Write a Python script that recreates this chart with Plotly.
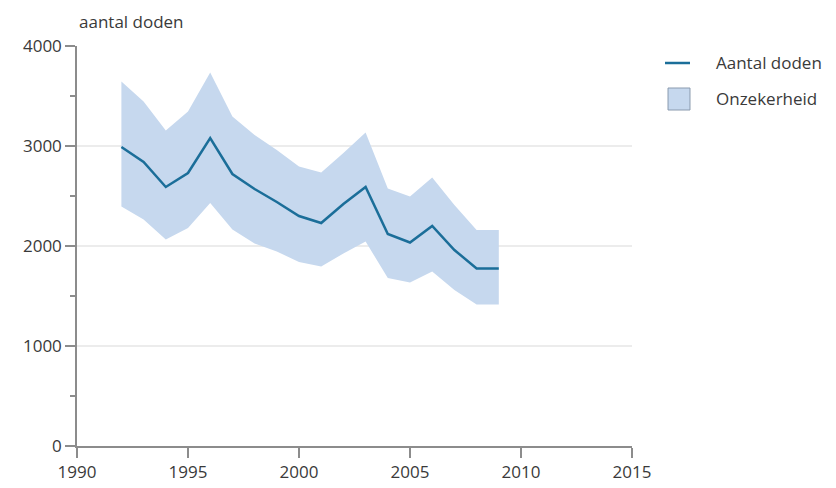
import plotly.graph_objects as go

years = list(range(1992, 2010))
deaths = [2990, 2840, 2590, 2730, 3080, 2720, 2570, 2440, 2300, 2230, 2420, 2590, 2120, 2035, 2200, 1960, 1775, 1775]
upper = [3645, 3445, 3155, 3345, 3735, 3295, 3110, 2960, 2795, 2735, 2930, 3135, 2575, 2495, 2685, 2410, 2160, 2160]
lower = [2395, 2265, 2065, 2180, 2430, 2165, 2025, 1945, 1840, 1795, 1925, 2045, 1680, 1635, 1745, 1560, 1415, 1415]

x_ticks = [1990, 1995, 2000, 2005, 2010, 2015]
y_ticks = [0, 1000, 2000, 3000, 4000]
legend_labels = ["Aantal doden", "Onzekerheid"]

line_color = "#1b6e99"
fill_color = "#c6d8ee"
axis_color = "#8c8c8c"
text_color = "#3a3a3a"
font_family = "Open Sans, Noto Sans, sans-serif"

fig = go.Figure()
fig.add_trace(go.Scatter(x=years, y=lower, mode="lines", line=dict(width=0, color=fill_color),
                         showlegend=False, hoverinfo="skip"))
fig.add_trace(go.Scatter(x=years, y=upper, mode="lines", line=dict(width=0, color=fill_color),
                         fill="tonexty", fillcolor=fill_color, showlegend=False, hoverinfo="skip"))
fig.add_trace(go.Scatter(x=years, y=deaths, mode="lines", name=legend_labels[0],
                         line=dict(color=line_color, width=2.5), showlegend=False))

# legend (drawn by hand to match the reference's swatches)
fig.add_shape(type="line", xref="paper", yref="paper", x0=1.0595, x1=1.1045, y0=0.9575, y1=0.9575,
              line=dict(color=line_color, width=2.5))
fig.add_shape(type="rect", xref="paper", yref="paper", x0=1.0649, x1=1.1045, y0=0.84, y1=0.895,
              fillcolor=fill_color, line=dict(color="#8a9aae", width=1))

fig.update_layout(
    width=836, height=488,
    margin=dict(l=77, r=204, t=46, b=42, autoexpand=False),
    paper_bgcolor="white", plot_bgcolor="white",
    font=dict(family=font_family, size=17, color=text_color),
    showlegend=False,
    annotations=[
        dict(text="aantal doden", xref="paper", yref="paper", x=0.0, y=1.06,
             xanchor="left", yanchor="middle", showarrow=False,
             font=dict(size=17, color=text_color)),
        dict(text=legend_labels[0], xref="paper", yref="paper", x=1.1477, y=0.9575,
             xanchor="left", yanchor="middle", showarrow=False,
             font=dict(size=17, color=text_color)),
        dict(text=legend_labels[1], xref="paper", yref="paper", x=1.1477, y=0.8675,
             xanchor="left", yanchor="middle", showarrow=False,
             font=dict(size=17, color=text_color)),
    ],
)
fig.update_xaxes(range=[1990, 2015], tickvals=x_ticks, showgrid=False, zeroline=False,
                 automargin=False,
                 showline=True, linecolor=axis_color, linewidth=1.5,
                 ticks="outside", ticklen=10, tickcolor=axis_color, tickwidth=1.5,
                 tickfont=dict(size=17))
fig.update_yaxes(range=[0, 4000], tickvals=y_ticks, showgrid=True, gridcolor="#ececec",
                 gridwidth=1.5, zeroline=False, automargin=False,
                 showline=True, linecolor=axis_color, linewidth=1.5,
                 ticks="outside", ticklen=10, tickcolor=axis_color, tickwidth=1.5,
                 tickfont=dict(size=17),
                 minor=dict(dtick=500, tick0=0, ticks="outside", ticklen=5,
                            tickcolor=axis_color, tickwidth=1.5, showgrid=False))

fig.write_html("out.html")
